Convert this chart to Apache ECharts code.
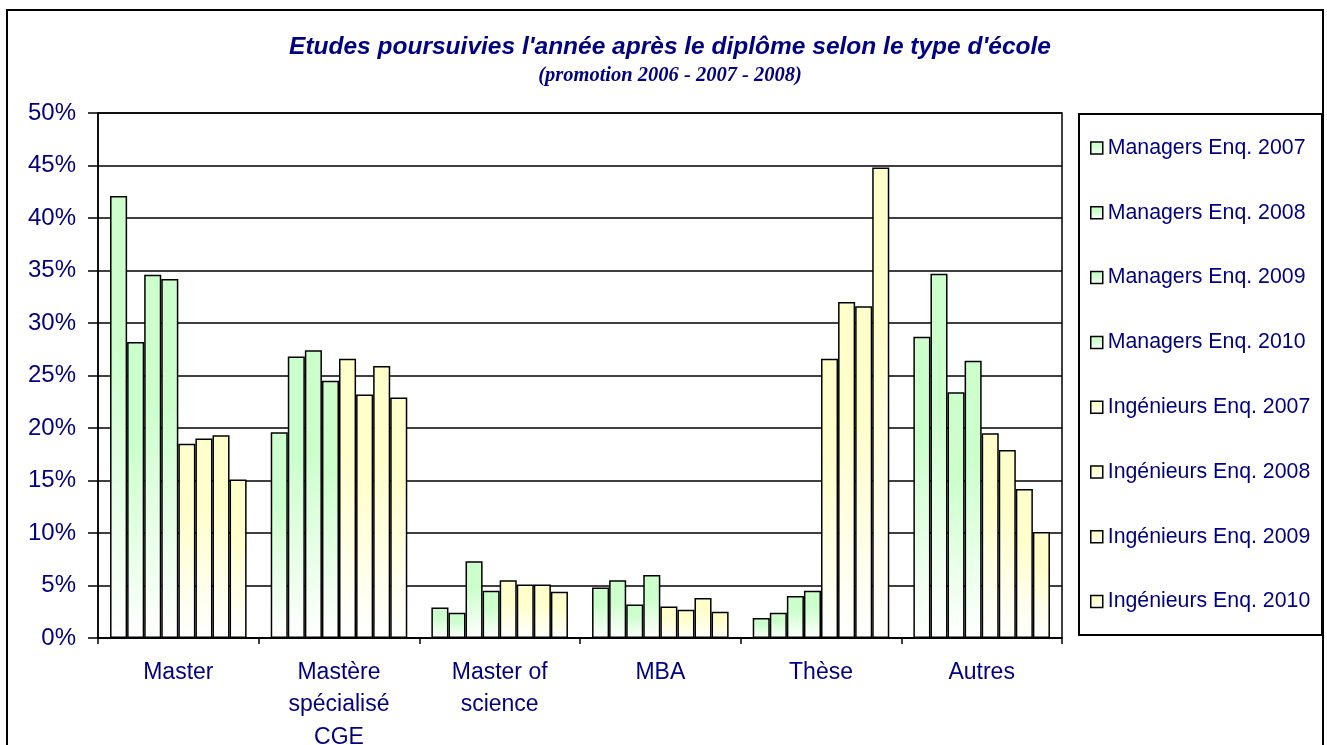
<!DOCTYPE html>
<html>
<head>
<meta charset="utf-8">
<script src="https://cdn.jsdelivr.net/npm/echarts@6/dist/echarts.min.js"></script>
<style>
  html, body { margin: 0; padding: 0; background: #fff; }
  #chart { width: 1327px; height: 745px; }
</style>
</head>
<body>
<div id="chart"></div>
<script>
// categories (school types)
const categories = ['Master', 'Mastère\nspécialisé\nCGE', 'Master of\nscience', 'MBA', 'Thèse', 'Autres']

// series values in %
const managers2007 = [42.1, 19.6, 2.9, 4.8, 1.9, 28.7]
const managers2008 = [28.2, 26.8, 2.4, 5.5, 2.4, 34.7]
const managers2009 = [34.6, 27.4, 7.3, 3.2, 4.0, 23.4]
const managers2010 = [34.2, 24.5, 4.5, 6.0, 4.5, 26.4]
const ingenieurs2007 = [18.5, 26.6, 5.5, 3.0, 26.6, 19.5]
const ingenieurs2008 = [19.0, 23.2, 5.1, 2.7, 32.0, 17.9]
const ingenieurs2009 = [19.3, 25.9, 5.1, 3.8, 31.6, 14.2]
const ingenieurs2010 = [15.1, 22.9, 4.4, 2.5, 44.8, 10.1]

const seriesNames = [
  'Managers Enq. 2007', 'Managers Enq. 2008', 'Managers Enq. 2009', 'Managers Enq. 2010',
  'Ingénieurs Enq. 2007', 'Ingénieurs Enq. 2008', 'Ingénieurs Enq. 2009', 'Ingénieurs Enq. 2010'
]
const seriesData = [
  managers2007, managers2008, managers2009, managers2010,
  ingenieurs2007, ingenieurs2008, ingenieurs2009, ingenieurs2010
]

const navy = '#000080'
const font = 'Liberation Sans, Arial, sans-serif'

function fade(c) {
  return new echarts.graphic.LinearGradient(0, 0, 0, 1, [
    { offset: 0, color: c },
    { offset: 0.35, color: c },
    { offset: 1, color: '#ffffff' }
  ])
}

const chart = echarts.init(document.getElementById('chart'), null, { renderer: 'canvas' })

chart.setOption({
  backgroundColor: '#fff',
  animation: false,
  title: {
    text: "Etudes poursuivies l'année après le diplôme selon le type d'école",
    subtext: '(promotion 2006 - 2007 - 2008)',
    left: 665,
    top: 28,
    textAlign: 'center',
    itemGap: 5,
    textStyle: {
      color: navy,
      fontFamily: font,
      fontSize: 24.5,
      fontWeight: 'bold',
      fontStyle: 'italic',
      lineHeight: 28
    },
    subtextStyle: {
      color: navy,
      fontFamily: 'Liberation Serif, Times New Roman, serif',
      fontSize: 20.5,
      fontWeight: 'bold',
      fontStyle: 'italic',
      lineHeight: 20
    }
  },
  graphic: [
    { // outer chart border
      type: 'rect',
      shape: { x: 7, y: 10, width: 1316, height: 745 },
      style: { fill: 'none', stroke: '#000', lineWidth: 2 },
      silent: true
    },
    { // legend box
      type: 'rect',
      shape: { x: 1079, y: 114, width: 243, height: 521 },
      style: { fill: '#fff', stroke: '#000', lineWidth: 2 },
      z: 0,
      silent: true
    }
  ],
  legend: {
    orient: 'vertical',
    left: 1085,
    top: 132,
    itemWidth: 12,
    itemHeight: 12,
    itemGap: 42.8,
    icon: 'rect',
    textStyle: { color: navy, fontFamily: font, fontSize: 21.3, lineHeight: 22 },
    itemStyle: { borderColor: '#000', borderWidth: 1.5 },
    z: 5
  },
  grid: {
    left: 98,
    right: 265,
    top: 113,
    bottom: 107,
    show: true,
    borderColor: '#000',
    borderWidth: 1.5,
    containLabel: false,
    outerBoundsMode: 'none'
  },
  xAxis: {
    type: 'category',
    data: categories,
    axisLine: { lineStyle: { color: '#000', width: 1.5 } },
    axisTick: { show: true, length: 6, lineStyle: { color: '#000', width: 1.5 } },
    axisLabel: {
      color: navy,
      fontFamily: font,
      fontSize: 23,
      lineHeight: 32.5,
      margin: 18,
      interval: 0
    }
  },
  yAxis: {
    type: 'value',
    min: 0,
    max: 50,
    interval: 5,
    axisLine: { show: true, lineStyle: { color: '#000', width: 1.5 } },
    axisTick: { show: true, length: 10, lineStyle: { color: '#000', width: 1.5 } },
    axisLabel: {
      formatter: '{value}%',
      color: navy,
      fontFamily: font,
      fontSize: 24,
      margin: 22
    },
    splitLine: { lineStyle: { color: '#000', width: 1.5 } }
  },
  series: seriesNames.map((name, i) => ({
    name: name,
    type: 'bar',
    data: seriesData[i],
    barGap: '0%',
    barCategoryGap: '15%',
    itemStyle: {
      color: fade(i < 4 ? '#ccffcc' : '#ffffcc'),
      borderColor: '#000',
      borderWidth: 1.5
    }
  }))
})
</script>
</body>
</html>
